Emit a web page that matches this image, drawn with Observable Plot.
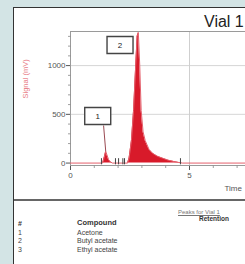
<!DOCTYPE html>
<html>
<head>
<meta charset="utf-8">
<script src="https://cdn.jsdelivr.net/npm/d3@7"></script>
<script src="https://cdn.jsdelivr.net/npm/@observablehq/plot@0.6"></script>
<style>
  html, body { margin: 0; padding: 0; }
  body { width: 245px; height: 264px; background: #d3e4e5; overflow: hidden; position: relative;
         font-family: "Liberation Sans", Arial, sans-serif; }
  #panel { position: absolute; left: 13px; top: 7px; width: 260px; height: 280px; background: #fff;
           border-left: 1.5px solid #333; border-top: 1.5px solid #333; }
  #chart { position: absolute; left: 15px; top: 27px; }
  .t { position: absolute; white-space: nowrap; }
  #title { left: 204px; top: 13.5px; font-size: 16px; line-height: 16px; color: #222; }
  #sep { position: absolute; left: 14px; top: 199px; width: 240px; height: 1.5px; background: #666; }
</style>
</head>
<body>
<div id="panel"></div>
<div id="chart"></div>
<div class="t" id="title">Vial 1</div>
<div id="sep"></div>
<div id="table"></div>
<script>
// ---- data ----
const times  = [0, 1.35, 1.42, 1.48, 1.53, 1.60, 1.68, 1.76, 2.40, 2.46, 2.49, 2.56, 2.65, 2.74, 2.80, 2.85, 2.91, 2.94, 2.97, 3.05, 3.14, 3.30, 3.45, 3.65, 3.87, 4.10, 4.35, 4.55, 4.70, 7.40];
const signal = [0, 0,    60,   120,  85,   35,   12,   0,    0,    50,   100,  230,  540,  1000, 1300, 1340, 1000, 760,  540,  320,  230,  140,  100,  70,   50,   30,   15,   6,    0,    0];
const peakIds   = ["1", "2"];
const peakTimes = [1.48, 2.85];
const peakApex  = [120, 1340];
const eventTimes = [1.30, 1.89, 2.02, 2.20, 2.27, 4.62];
const xTicks = [0, 5];
const yTicks = [0, 500, 1000];
const yMinor = [100, 200, 300, 400, 600, 700, 800, 900, 1100, 1200, 1300];
const xMinor = [1, 2, 3, 4, 6, 7];
const xDomain = [0, 7.353];
const yDomain = [-25, 1350];
const compoundNums = ["1", "2", "3"];
const compounds = ["Acetone", "Butyl acetate", "Ethyl acetate"];

const trace = times.map((t, i) => ({t, s: signal[i]}));
const peaks = peakIds.map((id, i) => ({id, t: peakTimes[i], s: peakApex[i]}));

const boxSymbol = {draw(ctx) { ctx.moveTo(-13, -8.5); ctx.lineTo(13, -8.5); ctx.lineTo(13, 8.5); ctx.lineTo(-13, 8.5); ctx.closePath(); }};
const hTick = {draw(ctx) { ctx.moveTo(-2.5, 0); ctx.lineTo(0, 0); }};
const vTick = {draw(ctx) { ctx.moveTo(0, 0); ctx.lineTo(0, 2.5); }};

const p1 = peaks.filter(d => d.id === "1");
const p2 = peaks.filter(d => d.id === "2");

const chart = Plot.plot({
  width: 230, height: 169,
  marginLeft: 55, marginTop: 4, marginBottom: 31, marginRight: 0,
  style: {background: "transparent", fontFamily: "Liberation Sans, Arial, sans-serif", fontSize: "8px", color: "#555", overflow: "visible"},
  x: {domain: xDomain, ticks: xTicks, tickSize: 5, tickPadding: 2, tickFormat: d => String(d), label: null},
  y: {domain: yDomain, ticks: yTicks, tickSize: 4, tickPadding: 1, tickFormat: d => String(d), label: null},
  marks: [
    Plot.ruleY(yTicks.filter(d => d > 0), {stroke: "#d6d6d6", strokeWidth: 1}),
    Plot.ruleX(xTicks.filter(d => d > 0), {stroke: "#cfcfcf", strokeWidth: 1}),
    Plot.frame({stroke: "#9a9a9a", strokeWidth: 1}),
    Plot.dot(yMinor, {x: () => xDomain[0], y: d => d, symbol: hTick, stroke: "#888", strokeWidth: 0.8}),
    Plot.dot(xMinor, {x: d => d, y: () => yDomain[0], symbol: vTick, stroke: "#888", strokeWidth: 0.8}),
    Plot.areaY(trace, {x: "t", y: "s", fill: "#d81a2a", curve: "linear"}),
    Plot.lineY(trace, {x: "t", y: "s", stroke: "#e4606c", strokeWidth: 1}),
    Plot.ruleX(eventTimes, {y1: -18, y2: 45, stroke: "#444", strokeWidth: 1}),
    Plot.link(p1, {x1: "t", y1: "s", x2: d => d.t - 0.09, y2: d => d.s + 265, stroke: "#9a4a52", strokeWidth: 1}),
    Plot.dot(p1, {x: "t", y: "s", symbol: boxSymbol, dx: -8, dy: -35.4, fill: "#fff", stroke: "#444", strokeWidth: 1.4}),
    Plot.text(p1, {x: "t", y: "s", text: "id", dx: -8, dy: -35.4, fontSize: 8, fill: "#222"}),
    Plot.dot(p2, {x: "t", y: "s", symbol: boxSymbol, dx: -18.3, dy: 12.6, fill: "#fff", stroke: "#444", strokeWidth: 1.4}),
    Plot.text(p2, {x: "t", y: "s", text: "id", dx: -18.3, dy: 12.6, fontSize: 8, fill: "#222"}),
    Plot.text(["Signal (mV)"], {text: d => d, frameAnchor: "left", dx: -45, rotate: -90, fill: "#e87c86", fontSize: 7.5}),
    Plot.text(["Time"], {text: d => d, frameAnchor: "bottom-right", textAnchor: "start", dx: -21, dy: 25, fill: "#555", fontSize: 8})
  ]
});
document.getElementById("chart").appendChild(chart);

// ---- peak table ----
const table = document.getElementById("table");
function addText(txt, left, cy, size, css) {
  const el = document.createElement("div");
  el.className = "t";
  el.textContent = txt;
  el.style.left = left + "px";
  el.style.top = (cy - size / 2) + "px";
  el.style.fontSize = size + "px";
  el.style.lineHeight = size + "px";
  el.style.cssText += css;
  table.appendChild(el);
}
addText("Peaks for Vial 1", 178, 211.5, 6, "color:#777;text-decoration:underline;");
addText("Retention", 199, 219, 6.5, "color:#333;font-weight:bold;");
addText("#", 18, 223, 7, "color:#333;font-weight:bold;");
addText("Compound", 77, 223, 7.5, "color:#333;font-weight:bold;");
const rowY = [232, 240.5, 249];
compounds.forEach((c, i) => {
  addText(compoundNums[i], 18, rowY[i], 7, "color:#444;");
  addText(c, 77, rowY[i], 7, "color:#444;");
});
</script>
</body>
</html>
